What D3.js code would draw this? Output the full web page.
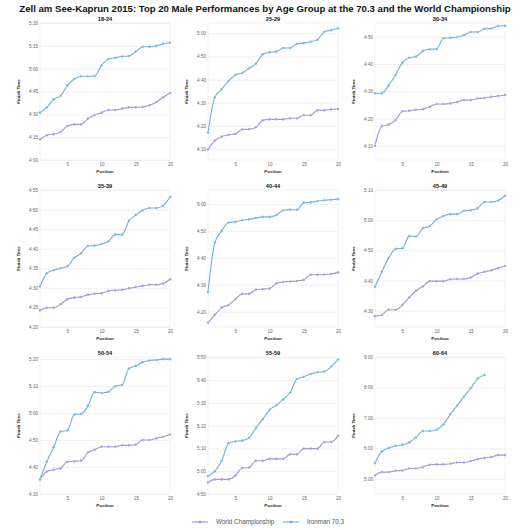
<!DOCTYPE html>
<html>
<head>
<meta charset="utf-8">
<script src="https://cdn.jsdelivr.net/npm/d3@7"></script>
<style>
  body { margin: 0; background: #fff; }
  svg { font-family: "Liberation Sans", Arial, sans-serif; }
</style>
</head>
<body>
<script>
// finish times are in minutes

var positions = [1, 2, 3, 4, 5, 6, 7, 8, 9, 10, 11, 12, 13, 14, 15, 16, 17, 18, 19, 20];

var ageGroups = ["18-24", "25-29", "30-34", "35-39", "40-44", "45-49", "50-54", "55-59", "60-64"];

var seriesNames = ["World Championship", "Ironman 70.3"];

// World Championship
var wc1824 = [253.6, 256.2, 257.0, 258.4, 262.3, 263.4, 263.4, 267.2, 269.6, 271.1, 272.8, 272.8, 273.7, 274.6, 274.6, 274.8, 275.9, 278.1, 281.2, 284.0];
var wc2529 = [249.7, 253.6, 255.3, 256.1, 256.5, 258.4, 258.5, 259.4, 262.4, 262.8, 262.8, 262.8, 263.3, 263.3, 264.6, 264.6, 266.7, 266.7, 267.1, 267.3];
var wc3034 = [250.1, 257.3, 257.9, 259.5, 262.7, 262.9, 263.3, 263.5, 264.4, 265.4, 265.4, 265.6, 266.1, 266.8, 266.8, 267.4, 267.6, 268.0, 268.3, 268.7];
var wc3539 = [264.2, 264.9, 264.9, 265.8, 267.1, 267.5, 267.7, 268.2, 268.5, 268.6, 269.2, 269.4, 269.5, 269.9, 270.2, 270.5, 270.8, 270.8, 271.1, 272.2];
var wc4044 = [255.9, 258.8, 261.5, 262.5, 264.6, 266.6, 266.6, 268.2, 268.4, 268.6, 270.5, 271.0, 271.2, 271.4, 271.8, 273.7, 273.7, 273.8, 274.0, 274.6];
var wc4549 = [268.2, 268.6, 270.3, 270.3, 271.9, 274.4, 276.6, 278.1, 279.8, 279.8, 279.8, 280.4, 280.5, 280.5, 281.0, 282.3, 282.9, 283.4, 284.1, 284.8];
var wc5054 = [275.4, 278.3, 279.0, 279.5, 281.9, 282.1, 282.3, 285.3, 286.4, 287.5, 287.5, 287.5, 288.0, 288.0, 288.3, 290.0, 290.0, 290.6, 291.2, 292.0];
var wc5559 = [295.0, 296.4, 296.4, 296.4, 298.1, 301.4, 301.6, 304.6, 304.6, 305.4, 305.4, 305.4, 307.4, 307.4, 309.9, 309.9, 309.9, 312.8, 312.8, 315.5];
var wc6064 = [306.6, 313.2, 313.2, 315.8, 316.4, 320.4, 320.4, 323.0, 327.6, 328.3, 328.3, 329.6, 332.2, 332.2, 334.9, 338.8, 340.8, 342.8, 346.7, 346.7];

// Ironman 70.3
var im1824 = [271.1, 274.6, 279.9, 282.0, 289.0, 293.2, 295.0, 295.0, 295.2, 302.2, 306.3, 307.2, 308.0, 308.3, 311.2, 314.4, 314.4, 315.0, 316.4, 317.0];
var im2529 = [257.1, 272.3, 275.8, 279.4, 282.0, 282.9, 284.9, 286.9, 290.9, 291.8, 292.1, 293.7, 293.7, 295.5, 295.8, 296.4, 297.3, 300.7, 301.4, 302.2];
var im3034 = [269.3, 269.3, 272.2, 276.0, 280.5, 282.3, 282.7, 284.8, 285.4, 285.5, 289.4, 289.6, 289.9, 290.5, 291.7, 291.7, 292.9, 293.0, 293.9, 294.0];
var im3539 = [270.4, 273.7, 274.5, 275.0, 275.5, 277.7, 278.8, 280.7, 280.8, 281.2, 281.9, 283.6, 283.6, 287.1, 288.6, 289.8, 290.4, 290.4, 291.0, 293.2];
var im4044 = [267.3, 285.7, 290.0, 293.1, 293.4, 294.0, 294.3, 294.8, 295.2, 295.2, 295.9, 297.7, 297.9, 297.8, 300.5, 300.6, 301.1, 301.4, 301.6, 301.8];
var im4549 = [277.9, 282.9, 287.5, 290.5, 290.7, 294.7, 294.6, 297.3, 298.0, 300.2, 301.4, 302.0, 302.0, 303.1, 303.3, 304.0, 306.0, 306.0, 306.5, 308.1];
var im5054 = [275.4, 282.0, 287.3, 293.1, 293.5, 299.4, 299.6, 302.6, 307.7, 307.4, 307.8, 309.9, 310.4, 316.4, 317.4, 318.8, 319.4, 319.6, 319.9, 319.9];
var im5559 = [297.9, 300.0, 304.6, 312.3, 313.1, 313.4, 314.6, 319.0, 322.8, 326.9, 328.9, 331.6, 334.5, 340.4, 341.4, 342.6, 343.4, 343.7, 345.9, 349.0];
var im6064 = [330.9, 353.9, 360.5, 365.1, 367.1, 371.7, 381.6, 394.1, 394.1, 396.7, 407.2, 427.0, 444.1, 461.8, 478.9, 497.4, 504.6];

// y ranges and tick values per panel (minutes)
var yDomains = [[240, 330], [245.2, 304.5], [244.9, 295], [260, 295], [254.3, 305.2], [264.6, 310], [270, 320.7], [290, 350.1], [270, 540]];
var yTickValues = [
    [240, 255, 270, 285, 300, 315, 330],
    [250, 260, 270, 280, 290, 300],
    [250, 260, 270, 280, 290],
    [260, 265, 270, 275, 280, 285, 290, 295],
    [260, 270, 280, 290, 300],
    [270, 280, 290, 300, 310],
    [270, 280, 290, 300, 310, 320],
    [290, 300, 310, 320, 330, 340, 350],
    [300, 360, 420, 480, 540]
];
var xTickValues = [5, 10, 15, 20];

var wcSeries = [wc1824, wc2529, wc3034, wc3539, wc4044, wc4549, wc5054, wc5559, wc6064];
var imSeries = [im1824, im2529, im3034, im3539, im4044, im4549, im5054, im5559, im6064];

var colors = ["#a092d4", "#6bafe0"];

// layout
var w = 530, h = 530;
var colLeft = [40, 208, 375], rowTop = [23, 190, 357];
var pw = 130, ph = 137;

var svg = d3.select("body").append("svg")
    .attr("width", w)
    .attr("height", h);

//main title
svg.append("text")
    .attr("x", w / 2)
    .attr("y", 11.5)
    .attr("text-anchor", "middle")
    .style("font-size", "9.6px")
    .style("font-weight", "bold")
    .style("fill", "#111")
    .text("Zell am See-Kaprun 2015: Top 20 Male Performances by Age Group at the 70.3 and the World Championship");

//minutes -> h:mm
function fmt(m) {
    var hh = Math.floor(m / 60), mm = Math.round(m - hh * 60);
    return hh + ":" + (mm < 10 ? "0" : "") + mm;
}

ageGroups.forEach(function(group, i) {
    var left = colLeft[i % 3], top = rowTop[Math.floor(i / 3)];
    var g = svg.append("g").attr("transform", "translate(" + left + "," + top + ")");

    var x = d3.scaleLinear().domain([1, 20]).range([0, pw]);
    var y = d3.scaleLinear().domain(yDomains[i]).range([ph, 0]);

    //frame
    g.append("rect")
        .attr("width", pw)
        .attr("height", ph)
        .style("fill", "none")
        .style("stroke", "#ececec")
        .style("stroke-width", 0.6);

    //y axis with gridlines
    var yAxis = g.append("g")
        .call(d3.axisLeft(y).tickValues(yTickValues[i]).tickSize(-pw).tickPadding(2).tickFormat(fmt));
    yAxis.select(".domain").remove();
    yAxis.selectAll("line").style("stroke", "#e6e6e6").style("stroke-width", 0.6);
    yAxis.selectAll("text").style("font-size", "4.6px").style("fill", "#666").attr("font-family", null);

    //x axis
    var xAxis = g.append("g")
        .attr("transform", "translate(0," + ph + ")")
        .call(d3.axisBottom(x).tickValues(xTickValues).tickSize(0).tickPadding(2.5));
    xAxis.select(".domain").remove();
    xAxis.selectAll("text").style("font-size", "4.6px").style("fill", "#666").attr("font-family", null);

    //panel title
    g.append("text")
        .attr("x", pw / 2)
        .attr("y", -2)
        .attr("text-anchor", "middle")
        .style("font-size", "5.6px")
        .style("font-weight", "bold")
        .style("fill", "#111")
        .text(group);

    //axis titles
    g.append("text")
        .attr("x", pw / 2)
        .attr("y", ph + 12.5)
        .attr("text-anchor", "middle")
        .style("font-size", "4.4px")
        .style("font-weight", "bold")
        .style("fill", "#222")
        .text("Position");

    g.append("text")
        .attr("transform", "translate(-20," + (ph / 2) + ") rotate(-90)")
        .attr("text-anchor", "middle")
        .style("font-size", "4.4px")
        .style("font-weight", "bold")
        .style("fill", "#222")
        .text("Finish Time");

    var line = d3.line()
        .x(function(d, j) { return x(positions[j]); })
        .y(function(d) { return y(d); })
        .curve(d3.curveMonotoneX);

    [wcSeries[i], imSeries[i]].forEach(function(vals, s) {
        g.append("path")
            .datum(vals)
            .attr("d", line)
            .style("fill", "none")
            .style("stroke", colors[s])
            .style("stroke-width", 1.1);

        g.selectAll(".pt" + s)
            .data(vals)
            .enter()
            .append("circle")
            .attr("class", "pt" + s)
            .attr("cx", function(d, j) { return x(positions[j]); })
            .attr("cy", function(d) { return y(d); })
            .attr("r", 1.3)
            .style("fill", colors[s])
            .style("stroke", "#fff")
            .style("stroke-width", 0.3);
    });
});

//legend
var legend = svg.append("g").attr("transform", "translate(0,522)");
var legendX = [192, 283];
seriesNames.forEach(function(name, s) {
    var lg = legend.append("g").attr("transform", "translate(" + legendX[s] + ",0)");
    lg.append("line")
        .attr("x1", 0).attr("x2", 16)
        .style("stroke", colors[s])
        .style("stroke-width", 1.1);
    lg.append("circle")
        .attr("cx", 8)
        .attr("r", 1.3)
        .style("fill", colors[s]);
    lg.append("text")
        .attr("x", 24)
        .attr("y", 2.2)
        .style("font-size", "6.3px")
        .style("fill", "#555")
        .text(name);
});
</script>
</body>
</html>
